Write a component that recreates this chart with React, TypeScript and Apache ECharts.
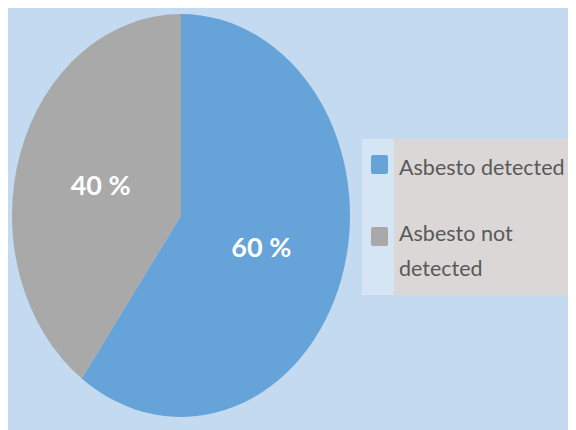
import React, { useEffect, useRef } from "react";
import * as echarts from "echarts";

const categories = ["Asbesto detected", "Asbesto not detected"];
const values = [60, 40];
const colors = ["#66a3d9", "#a9a9a9"];

const CX = 173;
const CY = 207.5;
const RX = 169;
const RY = 201.5;
const FONT = "Lato, 'Open Sans', sans-serif";

export default function App() {
  const ref = useRef<HTMLDivElement>(null);
  useEffect(() => {
    document.documentElement.style.overflow = "hidden";
    document.body.style.overflow = "hidden";
    const chart = echarts.init(ref.current!, undefined, { renderer: "svg" });
    const total = values.reduce((a, b) => a + b, 0);
    const starts: number[] = [];
    let acc = 0;
    values.forEach((v) => {
      starts.push(acc);
      acc += v;
    });

    const legendChildren: any[] = [
      { type: "rect", shape: { x: 354, y: 131, width: 208, height: 156 }, style: { fill: "#dbd7d7" } },
      { type: "rect", shape: { x: 354, y: 131, width: 32, height: 156 }, style: { fill: "#d5e5f4" } },
    ];
    const itemY = [147, 219];
    const textY = [141, 207];
    categories.forEach((name, i) => {
      legendChildren.push({
        type: "rect",
        shape: { x: 363, y: itemY[i], width: 17, height: 19, r: 2 },
        style: { fill: colors[i] },
      });
      legendChildren.push({
        type: "text",
        x: 391,
        y: textY[i],
        style: {
          text: name,
          fill: "#595959",
          font: `21.5px ${FONT}`,
          width: 170,
          overflow: "break",
          lineHeight: 35,
          align: "left",
          verticalAlign: "top",
        },
      });
    });

    chart.setOption({
      animation: false,
      backgroundColor: "#c3daf0",
      series: [
        {
          type: "custom",
          coordinateSystem: "none",
          data: values.map((v, i) => ({ value: v, name: categories[i] })),
          renderItem: (params: any, api: any) => {
            const i = params.dataIndex;
            const v = api.value(0);
            const s = -Math.PI / 2 + (starts[i] / total) * Math.PI * 2;
            const e = s + (v / total) * Math.PI * 2;
            const m = (s + e) / 2;
            return {
              type: "group",
              children: [
                {
                  type: "sector",
                  x: CX,
                  y: CY,
                  scaleY: RY / RX,
                  shape: { cx: 0, cy: 0, r0: 0, r: RX, startAngle: s, endAngle: e, clockwise: true },
                  style: { fill: colors[i] },
                },
                {
                  type: "text",
                  x: CX + 0.5 * RX * Math.cos(m),
                  y: CY + 0.5 * RY * Math.sin(m),
                  style: {
                    text: `${Math.round((v / total) * 100)} %`,
                    fill: "#ffffff",
                    font: `bold 27px ${FONT}`,
                    align: "center",
                    verticalAlign: "middle",
                  },
                },
              ],
            };
          },
        },
      ],
      graphic: [{ type: "group", children: legendChildren }],
    });
    return () => chart.dispose();
  }, []);
  return <div ref={ref} style={{ width: 568, height: 422 }} />;
}
